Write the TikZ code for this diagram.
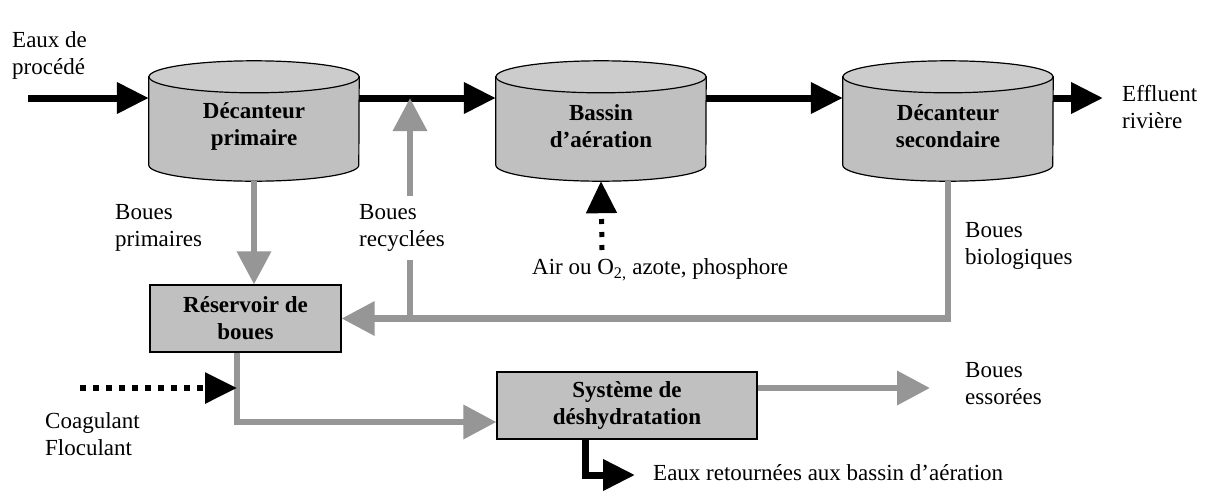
\documentclass[tikz,border=0pt]{standalone}
\usepackage{fontspec}
\setmainfont{Liberation Serif}
\usetikzlibrary{arrows.meta,backgrounds,calc}
\definecolor{agray}{RGB}{150,150,150}
\definecolor{bfill}{RGB}{192,192,192}
\definecolor{tfill}{RGB}{204,204,204}
\begin{document}
\begin{tikzpicture}[x=1pt,y=-1pt,
  font=\fontsize{23}{27}\selectfont,
  lbl/.style={inner sep=0pt, align=left, anchor=west},
  bx/.style={draw=black, line width=1.2pt, fill=bfill, font=\fontsize{23}{27}\selectfont\bfseries, align=center, inner sep=0pt},
  cyl/.style={minimum width=210pt, minimum height=88pt, inner sep=0pt, align=center, font=\fontsize{23}{27}\selectfont\bfseries},
  blk/.style={line width=7pt, -{Triangle[length=32pt,width=30pt]}},
  gry/.style={draw=agray, line width=6.5pt, -{Triangle[length=33pt,width=33pt]}},
  dotarrow/.style={line width=6pt, dash pattern=on 6pt off 7pt, -{Triangle[length=32pt,width=30pt]}}
]
\useasboundingbox (0,0) rectangle (1211,491);

% tanks (node centre 5pt below body centre so that the text sits lower)
\node[cyl] (d1) at (254,126) {Décanteur\\primaire};
\node[cyl] (ba) at (601,126) {Bassin\\d'aération};
\node[cyl] (d2) at (948,126) {Décanteur\\secondaire};
\begin{scope}[on background layer]
\fill[white] (0,0) rectangle (1211,491);
\foreach \n in {d1,ba,d2}{
  \filldraw[fill=bfill, line width=1.2pt] ([yshift=5pt]\n.north west) -- ([yshift=5pt]\n.south west)
     arc[start angle=180, end angle=360, x radius=105pt, y radius=16pt] -- ([yshift=5pt]\n.north east) -- cycle;
  \filldraw[fill=tfill, line width=1.2pt] ([yshift=5pt]\n.north) ellipse [x radius=105pt, y radius=16pt];
}
\end{scope}

% boxes
\node[bx, minimum width=191pt, minimum height=67pt] (res) at (245.5,318.5) {Réservoir de\\boues};
\node[bx, minimum width=260pt, minimum height=67pt] (dh) at (627,405.5) {Système de\\déshydratation};

% coordinates for free ends
\coordinate (in) at (28,98);
\coordinate (eff) at (1103,98);
\coordinate (j) at (410,318.5);
\coordinate (air) at (602,250);
\coordinate (rb) at ([xshift=-8.5pt]res.south);
\coordinate (coag) at (80,388);
\coordinate (ess) at (930,388);
\coordinate (ret) at (635,475);

% main water line
\draw[blk] (in) -- ([yshift=28pt]d1.west);
\draw[blk] ([yshift=28pt]d1.east) -- ([yshift=28pt]ba.west);
\draw[blk] ([yshift=28pt]ba.east) -- ([yshift=28pt]d2.west);
\draw[blk] ([yshift=28pt]d2.east) -- (eff);

% sludge lines
\draw[gry] ([yshift=-11pt]d1.south) -- (d1.south |- res.north);
\draw[gry] ([yshift=-11pt]d2.south) |- (res.east);
\draw[gry] (j) -- (j |- in);
\draw[gry] (rb) |- ([yshift=-16.5pt]dh.west);
\draw[gry] ([yshift=17.5pt]dh.east) -- (ess);

% black returns / additions
\draw[blk] ([xshift=-42pt]dh.south) |- (ret);
\draw[dotarrow, line width=5pt, dash pattern=on 5pt off 8pt] (air) -- ([yshift=-11pt]ba.south);
\draw[dotarrow] (coag) -- (rb |- coag);

% labels
\node[lbl] (t1) at (12,55) {Eaux de\\procédé};
\node[lbl] (t2) at (1122,107) {Effluent\\rivière};
\node[lbl] (t3) at (115,228) {Boues\\primaires};
\node[lbl, fill=white, inner ysep=8pt] (t4) at (359,228) {Boues\\recyclées};
\node[lbl] (t5) at (965,246) {Boues\\biologiques};
\node[lbl] (t6) at (45,434) {Coagulant\\Floculant};
\node[lbl] (t7) at (965,384) {Boues\\essorées};
\node[lbl] (t8) at (653,473) {Eaux retournées aux bassin d'aération};
\node[lbl] (t9) at (532,270) {Air ou O\textsubscript{2,} azote, phosphore};
\end{tikzpicture}
\end{document}
